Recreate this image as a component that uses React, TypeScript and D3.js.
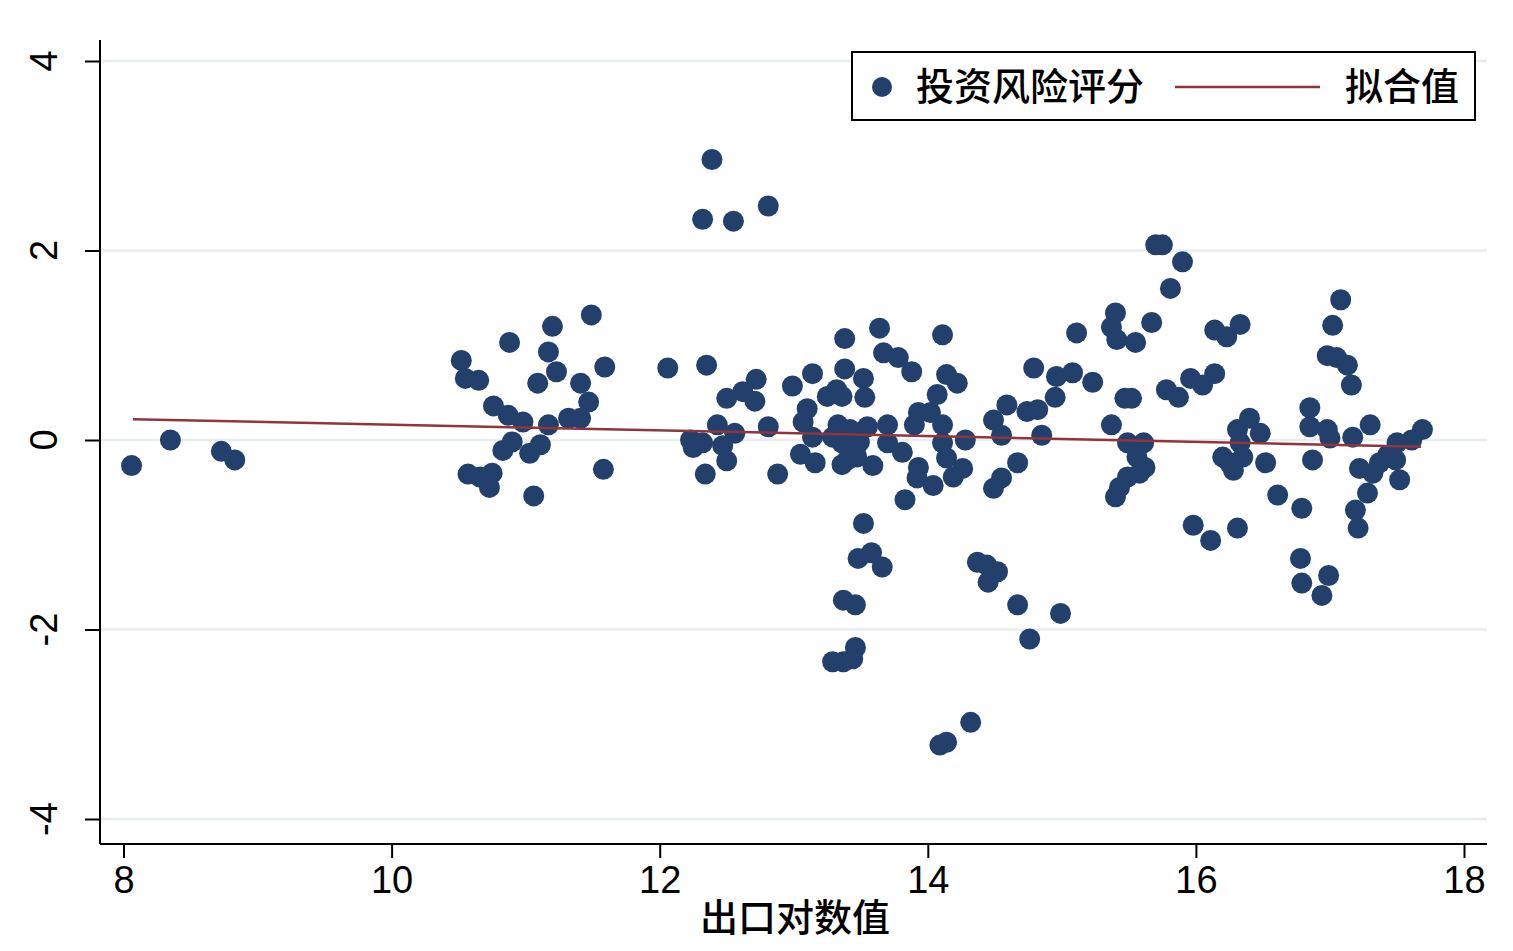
import { useEffect, useRef } from "react";
import * as d3 from "d3";

// [出口对数值, 投资风险评分]
const scatterPoints: [number, number][] = [
  [8.06, -0.27], [8.35, 0.0], [8.73, -0.12], [8.83, -0.21],
  [10.52, 0.84], [10.55, 0.65], [10.65, 0.63], [10.76, 0.36], [10.87, 0.26], [10.98, 0.19],
  [10.88, 1.03], [11.2, 1.2], [11.17, 0.93], [11.23, 0.72], [11.09, 0.6], [11.41, 0.6],
  [11.49, 1.32], [11.59, 0.77], [11.47, 0.4], [11.17, 0.16], [11.32, 0.23], [11.41, 0.23],
  [10.9, -0.02], [10.83, -0.11], [11.11, -0.05], [11.03, -0.14], [10.57, -0.36], [10.75, -0.35],
  [10.73, -0.5], [10.66, -0.39], [11.06, -0.59], [11.58, -0.31],
  [12.06, 0.76], [12.35, 0.79], [12.72, 0.64], [12.62, 0.51], [12.71, 0.41], [12.5, 0.44],
  [12.43, 0.16], [12.56, 0.07], [12.81, 0.14], [12.23, 0.0], [12.25, -0.08], [12.32, -0.03],
  [12.5, -0.22], [12.34, -0.36], [12.88, -0.36], [12.99, 0.57], [12.32, 2.33], [12.39, 2.96],
  [12.55, 2.31], [12.81, 2.47], [12.47, -0.06],
  [13.14, 0.7], [13.38, 1.07], [13.64, 1.18], [14.11, 1.11], [15.11, 1.13], [13.67, 0.92],
  [13.78, 0.87], [13.88, 0.72], [13.38, 0.75], [13.52, 0.65], [13.53, 0.45], [13.25, 0.46],
  [13.32, 0.53], [13.36, 0.46], [13.1, 0.33], [13.07, 0.19], [13.14, 0.03], [13.33, 0.16],
  [13.29, 0.03], [13.36, -0.03], [13.49, -0.02], [13.55, 0.14], [13.7, 0.16], [13.7, -0.03],
  [13.05, -0.15], [13.16, -0.24], [13.36, -0.26], [13.47, -0.18], [13.59, -0.27], [13.81, -0.13],
  [13.83, -0.63], [14.14, 0.69], [14.22, 0.6], [14.07, 0.48], [14.79, 0.76], [14.96, 0.67],
  [15.08, 0.71], [15.23, 0.61], [14.95, 0.45], [14.59, 0.37], [14.49, 0.21], [14.55, 0.05],
  [14.74, 0.3], [14.82, 0.32], [14.85, 0.05], [14.28, 0.0], [13.93, 0.29], [13.9, 0.16],
  [14.02, 0.29], [14.11, 0.16], [14.11, -0.03], [14.14, -0.19], [14.19, -0.39], [14.26, -0.3],
  [13.93, -0.29], [13.92, -0.4], [14.04, -0.48], [14.67, -0.24], [14.55, -0.4], [14.49, -0.51],
  [13.44, -0.07], [13.42, 0.11], [13.46, -0.11], [13.4, -0.21],
  [13.52, -0.88], [13.48, -1.25], [13.58, -1.19], [13.66, -1.34], [13.37, -1.69], [13.46, -1.74],
  [13.46, -2.19], [13.29, -2.34], [13.37, -2.34], [13.44, -2.31], [14.37, -1.29], [14.44, -1.32],
  [14.52, -1.39], [14.45, -1.5], [14.67, -1.74], [14.99, -1.83], [14.76, -2.1], [14.32, -2.98],
  [14.09, -3.22], [14.14, -3.19],
  [15.7, 2.06], [15.75, 2.06], [15.9, 1.88], [15.81, 1.6], [15.4, 1.34], [15.37, 1.19],
  [15.41, 1.06], [15.55, 1.03], [15.67, 1.24], [16.14, 1.16], [16.23, 1.09], [16.33, 1.22],
  [17.08, 1.48], [17.02, 1.21], [16.98, 0.89], [17.05, 0.87], [17.13, 0.79], [17.16, 0.58],
  [15.78, 0.53], [15.87, 0.45], [15.96, 0.65], [16.05, 0.58], [16.14, 0.7], [15.47, 0.44],
  [15.52, 0.44], [15.37, 0.16], [15.49, -0.03], [15.61, -0.03], [15.56, -0.18], [15.62, -0.29],
  [15.58, -0.35], [15.49, -0.39], [15.43, -0.5], [15.4, -0.6], [16.4, 0.23], [16.31, 0.11],
  [16.48, 0.07], [16.33, -0.03], [16.2, -0.18], [16.25, -0.24], [16.35, -0.18], [16.28, -0.32],
  [16.52, -0.24], [16.61, -0.58], [16.79, -0.72], [16.85, 0.34], [16.85, 0.14], [16.98, 0.11],
  [17.0, 0.02], [16.87, -0.21], [17.17, 0.03], [17.3, 0.16], [17.69, 0.11], [17.61, 0.0],
  [17.5, -0.03], [17.43, -0.16], [17.49, -0.21], [17.37, -0.24], [17.22, -0.3], [17.32, -0.35],
  [17.52, -0.42], [17.28, -0.56], [17.19, -0.74], [17.21, -0.93], [15.98, -0.9], [16.11, -1.06],
  [16.31, -0.93], [16.78, -1.25], [16.99, -1.43], [16.79, -1.51], [16.94, -1.64],
];

const fitLineX = [8.07, 17.68];
const fitLineY = [0.22, -0.07];

const xTicks = [8, 10, 12, 14, 16, 18];
const yTicks = [-4, -2, 0, 2, 4];

const scatterLabel = "投资风险评分";
const fitLabel = "拟合值";
const xTitle = "出口对数值";

const NAVY = "#233f6b";
const MAROON = "#90353b";
const GRID = "#e8eef0";
const LATIN = "'Liberation Sans', Arial, sans-serif";
const CJK = "'Noto Sans CJK SC', sans-serif";

function App() {
  const svgRef = useRef<SVGSVGElement>(null);

  useEffect(() => {
    if (!svgRef.current) return;
    const svg = d3.select(svgRef.current);
    svg.selectAll("*").remove();

    const plot = { left: 100, right: 1487, top: 40, bottom: 844 };

    const x = d3.scaleLinear().domain([8, 18]).range([123.5, 1464]);
    const y = d3.scaleLinear().domain([-4, 4]).range([819, 61]);

    svg.append("rect").attr("width", 1513).attr("height", 951).attr("fill", "#fff");

    // grid
    svg
      .append("g")
      .selectAll("line")
      .data(yTicks)
      .enter()
      .append("line")
      .attr("x1", plot.left)
      .attr("x2", plot.right)
      .attr("y1", (d) => y(d))
      .attr("y2", (d) => y(d))
      .attr("stroke", GRID)
      .attr("stroke-width", 2.5);

    // points
    svg
      .append("g")
      .selectAll("circle")
      .data(scatterPoints)
      .enter()
      .append("circle")
      .attr("cx", (d) => x(d[0]))
      .attr("cy", (d) => y(d[1]))
      .attr("r", 10.5)
      .attr("fill", NAVY);

    // fitted line, drawn over the scatter
    const line = d3
      .line<number>()
      .x((d) => x(d))
      .y((_, i) => y(fitLineY[i]));
    svg
      .append("path")
      .attr("d", line(fitLineX))
      .attr("fill", "none")
      .attr("stroke", MAROON)
      .attr("stroke-width", 2.5);

    // axes
    const yAxis = d3.axisLeft(y).tickValues(yTicks).tickSize(15).tickFormat(() => "");
    const yg = svg.append("g").attr("transform", `translate(${plot.left},0)`).call(yAxis);
    yg.select(".domain").remove();
    yg.selectAll(".tick line").attr("stroke", "#000").attr("stroke-width", 2);

    svg
      .append("line")
      .attr("x1", plot.left)
      .attr("x2", plot.left)
      .attr("y1", plot.top)
      .attr("y2", plot.bottom)
      .attr("stroke", "#000")
      .attr("stroke-width", 2);

    svg
      .append("g")
      .selectAll("text")
      .data(yTicks)
      .enter()
      .append("text")
      .attr("transform", (d) => `translate(57,${y(d)}) rotate(-90)`)
      .attr("text-anchor", "middle")
      .style("font-family", LATIN)
      .style("font-size", "38px")
      .attr("fill", "#000")
      .text((d) => String(d));

    const xAxis = d3.axisBottom(x).tickValues(xTicks).tickSize(14).tickPadding(8).tickFormat(d3.format("d"));
    const xg = svg.append("g").attr("transform", `translate(0,${plot.bottom})`).call(xAxis);
    xg.select(".domain").remove();
    xg.selectAll(".tick line").attr("stroke", "#000").attr("stroke-width", 2);
    xg.selectAll(".tick text")
      .attr("fill", "#000")
      .style("font-family", LATIN)
      .style("font-size", "38px");

    svg
      .append("line")
      .attr("x1", plot.left)
      .attr("x2", plot.right)
      .attr("y1", plot.bottom)
      .attr("y2", plot.bottom)
      .attr("stroke", "#000")
      .attr("stroke-width", 2);

    svg
      .append("text")
      .attr("x", 795)
      .attr("y", 931)
      .attr("text-anchor", "middle")
      .style("font-family", CJK)
      .style("font-size", "38px")
      .style("font-weight", 500)
      .attr("fill", "#000")
      .text(xTitle);

    // legend
    const lg = svg.append("g");
    lg.append("rect")
      .attr("x", 852)
      .attr("y", 52)
      .attr("width", 623)
      .attr("height", 68)
      .attr("fill", "#fff")
      .attr("stroke", "#000")
      .attr("stroke-width", 2);
    lg.append("circle").attr("cx", 882).attr("cy", 87).attr("r", 10).attr("fill", NAVY);
    lg.append("text")
      .attr("x", 916)
      .attr("y", 100)
      .style("font-family", CJK)
      .style("font-size", "38px")
      .style("font-weight", 500)
      .attr("fill", "#000")
      .text(scatterLabel);
    lg.append("line")
      .attr("x1", 1175)
      .attr("x2", 1320)
      .attr("y1", 87)
      .attr("y2", 87)
      .attr("stroke", MAROON)
      .attr("stroke-width", 2.5);
    lg.append("text")
      .attr("x", 1345)
      .attr("y", 100)
      .style("font-family", CJK)
      .style("font-size", "38px")
      .style("font-weight", 500)
      .attr("fill", "#000")
      .text(fitLabel);
  }, []);

  return (
    <div style={{ position: "absolute", left: 0, top: 0 }}>
      <svg ref={svgRef} width={1513} height={951} style={{ display: "block" }} />
    </div>
  );
}

export default App;
